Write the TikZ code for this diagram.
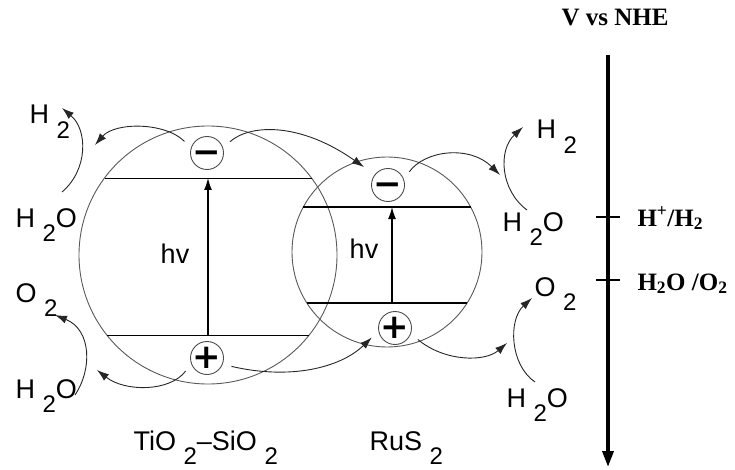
\documentclass[tikz,border=0pt]{standalone}
\usepackage{fontspec}
\setmainfont{Liberation Sans}
\newfontfamily\axisfont{Liberation Serif}
\newfontfamily\signfont{DejaVu Sans}
\usetikzlibrary{arrows.meta}
\newcommand{\chsub}[1]{\hspace{0.28em}\raisebox{-0.55em}{\fontsize{24}{24}\selectfont #1}}
\newcommand{\chsign}[1]{\raisebox{-0.32em}[0pt][0pt]{\makebox[0pt]{#1}}}

\begin{document}
\begin{tikzpicture}[x=1pt, y=-1pt, font=\fontsize{27}{27}\selectfont,
    particle/.style={circle, draw=black!65, line width=0.9pt, inner sep=0pt},
    charge/.style={circle, draw=black!70, line width=0.9pt, minimum size=33pt, inner sep=0pt, font=\fontsize{34}{34}\selectfont\signfont\bfseries},
    flow/.style={draw=black!85, line width=0.9pt, -{Latex[length=12pt,width=8pt]}},
    band/.style={line width=1.3pt},
    species/.style={anchor=base west},
    potential/.style={anchor=base west, font=\fontsize{25}{25}\selectfont\axisfont\bfseries}]
  \useasboundingbox (0,0) rectangle (735,470);
  % the two particles
  \node[particle, minimum size=258pt] (tio) at (208,255) {};
  \node[particle, minimum size=190pt] (rus) at (387,252) {};
  \draw[band, line width=0.9pt] (105,178) -- (312,178);
  \draw[band, line width=0.9pt] (107,335) -- (309,335);
  \draw[band] (303,207) -- (471,207);
  \draw[band] (307,303) -- (467,303);
  \coordinate (cbA) at (208,178);
  \coordinate (vbA) at (208,335);
  \coordinate (cbB) at (392,207);
  \coordinate (vbB) at (392,303);
  \draw[band, -{Latex[length=12pt,width=8pt]}] (vbA) -- (cbA);
  \draw[band, -{Latex[length=12pt,width=8pt]}] (vbB) -- (cbB);
  \node[anchor=base] (hvA) at (175,263) {hv};
  \node[anchor=base] (hvB) at (364,258) {hv};
  % electrons and holes
  \node[charge] (eA) at (207,153) {\chsign{−}};
  \node[charge] (eB) at (388,185) {\chsign{−}};
  \node[charge] (hA) at (207,358) {\chsign{+}};
  \node[charge] (hB) at (395,328) {\chsign{+}};
  % species
  \node[species] (htop) at (26,124) {H\chsub{2}};
  \node[species] (wtop) at (12,227) {H\chsub{2}O};
  \node[species] (otop) at (12,302) {O\chsub{2}};
  \node[species] (wbot) at (12,398) {H\chsub{2}O};
  \node[species] (hright) at (533,139) {H\chsub{2}};
  \node[species] (wright) at (499,231) {H\chsub{2}O};
  \node[species] (oright) at (531,296) {O\chsub{2}};
  \node[species] (wrbot) at (503,407) {H\chsub{2}O};
  \node[species] (tiname) at (130,450) {TiO\chsub{2}–SiO\chsub{2}};
  \node[species] (runame) at (366,450) {RuS\chsub{2}};
  % free ends of the arrows
  \coordinate (gA) at (95,145);
  \coordinate (hA1) at (62,192);
  \coordinate (hA2) at (62,108);
  \coordinate (gB) at (500,175);
  \coordinate (hB1) at (527,210);
  \coordinate (hB2) at (523,127);
  \coordinate (gC) at (97,370);
  \coordinate (oA1) at (75,395);
  \coordinate (oA2) at (55,315);
  \coordinate (gD) at (507,343);
  \coordinate (oB1) at (535,382);
  \coordinate (oB2) at (532,298);
  \draw[flow, shorten <=9pt] (eA.162) .. controls (165,122) and (115,122) .. (gA);
  \draw[flow] (hA1) .. controls (88,170) and (88,130) .. (hA2);
  \draw[flow, shorten <=9pt, shorten >=13pt] (eA.18) .. controls (250,124) and (300,122) .. (eB.142);
  \draw[flow, shorten <=9pt] (eB.20) .. controls (425,150) and (470,145) .. (gB);
  \draw[flow] (hB1) .. controls (500,190) and (498,150) .. (hB2);
  \draw[flow, shorten <=9pt] (hA.200) .. controls (170,392) and (125,392) .. (gC);
  \draw[flow] (oA1) .. controls (92,370) and (92,330) .. (oA2);
  \draw[flow, shorten <=9pt, shorten >=9pt] (hA.338) .. controls (290,380) and (340,368) .. (hB.191);
  \draw[flow, shorten <=9pt] (hB.340) .. controls (445,362) and (485,362) .. (gD);
  \draw[flow] (oB1) .. controls (510,365) and (508,320) .. (oB2);
  % potential scale
  \node[anchor=base, font=\fontsize{25}{25}\selectfont\axisfont\bfseries] (scale) at (615,26) {V vs NHE};
  \coordinate (stop) at (608,55);
  \coordinate (sbot) at (608,467);
  \draw[line width=3.5pt, -{Triangle[length=16pt,width=11pt]}] (stop) -- (sbot);
  \foreach \y in {217,280}
    \draw[line width=2.5pt] (596,\y) -- (620,\y);
  \node[potential] (hplus) at (634,226) {H\textsuperscript{+}/H\textsubscript{2}};
  \node[potential] (wox) at (634,290) {H\textsubscript{2}O /O\textsubscript{2}};
\end{tikzpicture}
\end{document}
